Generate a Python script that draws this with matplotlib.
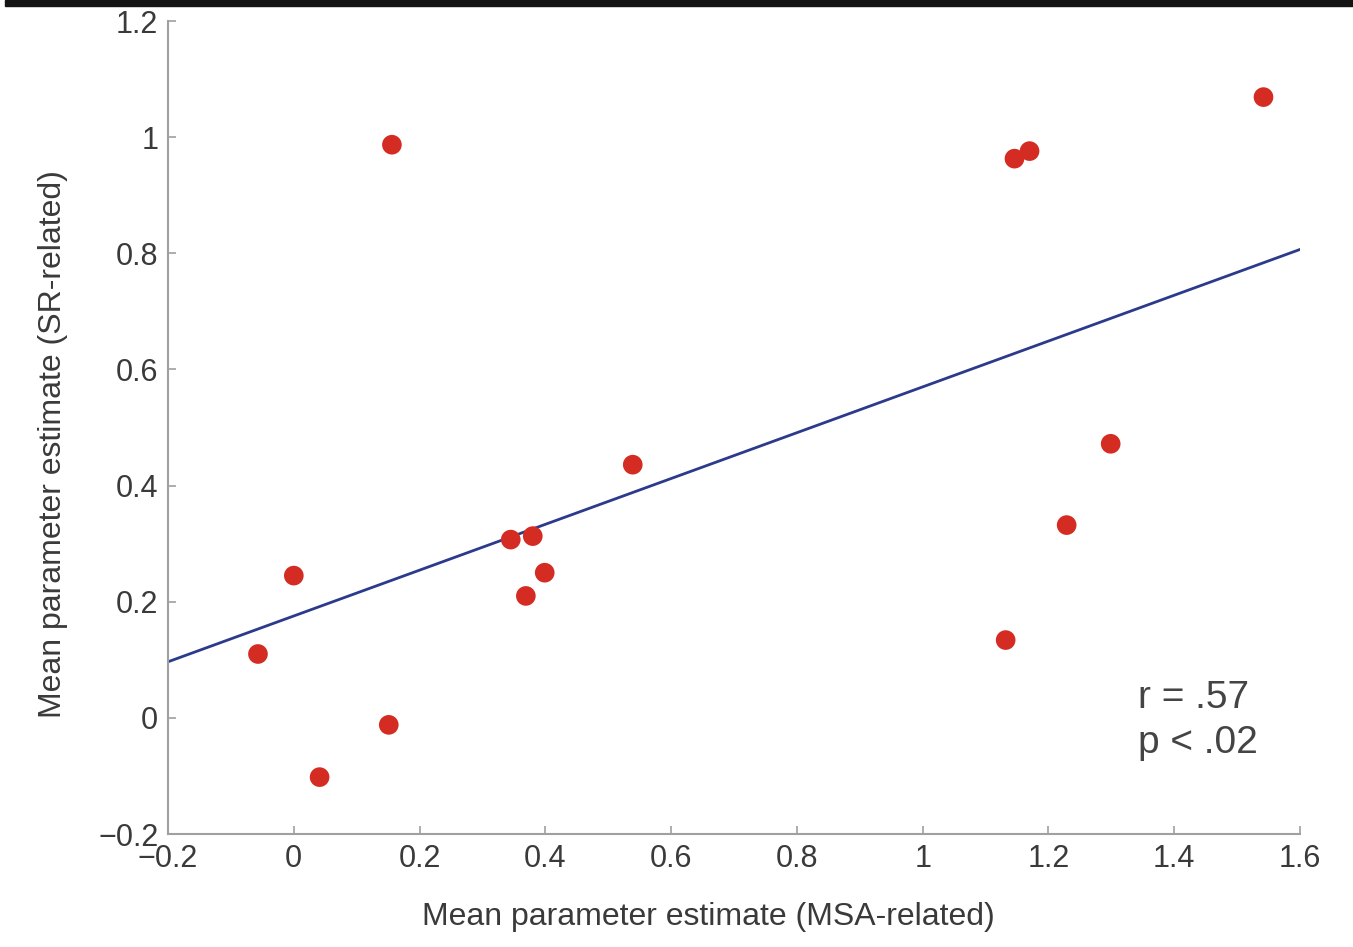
import numpy as np
import matplotlib
matplotlib.use("Agg")
import matplotlib.pyplot as plt
from matplotlib.patches import Rectangle

# Data
msa_related = [-0.057, 0.000, 0.041, 0.151, 0.156, 0.345, 0.380, 0.369, 0.399,
               0.539, 1.132, 1.146, 1.170, 1.229, 1.299, 1.542]
sr_related = [0.110, 0.245, -0.102, -0.012, 0.987, 0.307, 0.313, 0.210, 0.250,
              0.436, 0.134, 0.963, 0.976, 0.332, 0.472, 1.069]
x_ticks = [-0.2, 0, 0.2, 0.4, 0.6, 0.8, 1, 1.2, 1.4, 1.6]
y_ticks = [-0.2, 0, 0.2, 0.4, 0.6, 0.8, 1, 1.2]
x_tick_labels = ["\u22120.2", "0", "0.2", "0.4", "0.6", "0.8", "1", "1.2", "1.4", "1.6"]
y_tick_labels = ["\u22120.2", "0", "0.2", "0.4", "0.6", "0.8", "1", "1.2"]
stats_text = "r = .57\np < .02"

plt.rcParams['font.family'] = ['Liberation Sans', 'DejaVu Sans']

fig = plt.figure(figsize=(13.53, 9.47), dpi=100)
ax = fig.add_axes([0.1242, 0.1193, 0.8366, 0.8585])

x = np.array(msa_related)
y = np.array(sr_related)
slope, intercept = np.polyfit(x, y, 1)
xl = np.array([-0.2, 1.6])
ax.plot(xl, slope * xl + intercept, color='#2c3a8c', lw=2.0, zorder=2)
ax.scatter(x, y, s=200, color='#d42b22', edgecolors='none', zorder=3)

ax.set_xlim(-0.2, 1.6)
ax.set_ylim(-0.2, 1.2)
ax.set_xticks(x_ticks)
ax.set_xticklabels(x_tick_labels)
ax.set_yticks(y_ticks)
ax.set_yticklabels(y_tick_labels)

for s in ['top', 'right']:
    ax.spines[s].set_visible(False)
for s in ['left', 'bottom']:
    ax.spines[s].set_color('#a0a0a0')
    ax.spines[s].set_linewidth(1.5)
ax.tick_params(direction='in', length=6, width=1.2, color='#a0a0a0',
               labelsize=22, labelcolor='#3a3a3a', pad=7)

ax.set_xlabel('Mean parameter estimate (MSA-related)', fontsize=23,
              color='#3a3a3a', labelpad=20, x=0.477)
ax.set_ylabel('Mean parameter estimate (SR-related)', fontsize=23,
              color='#3a3a3a', labelpad=22, y=0.48)

ax.text(1.342, -0.005, stats_text, fontsize=28, color='#444444',
        ha='left', va='center', linespacing=1.32)

fig.patches.append(Rectangle((5 / 1353, 1 - 6 / 947), 1, 6 / 947,
                             transform=fig.transFigure, color='#141414',
                             zorder=10))

fig.savefig('out.png', dpi=100, facecolor='white')
